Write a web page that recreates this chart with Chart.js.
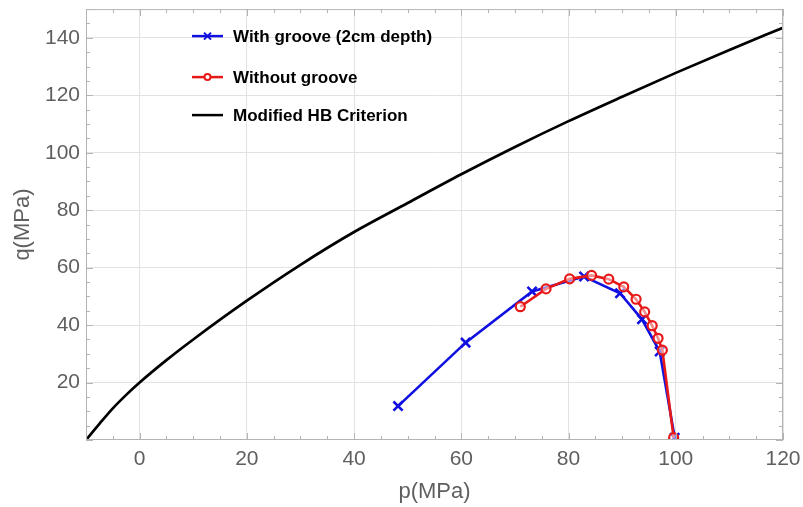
<!DOCTYPE html>
<html>
<head>
<meta charset="utf-8">
<script src="https://cdn.jsdelivr.net/npm/chart.js@4.4.1/dist/chart.umd.min.js"></script>
<style>
  html, body { margin: 0; padding: 0; background: #fff; }
  #wrap { width: 803px; height: 507px; position: relative; }
</style>
</head>
<body>
<div id="wrap"><canvas id="pqChart"></canvas></div>
<script>
// (p, q in MPa)
const grooveP = [48.2, 60.8, 73.2, 82.9, 89.6, 93.7, 97.0, 99.8];
const grooveQ = [11.8, 33.9, 51.7, 56.9, 51.1, 42.0, 30.8, 0.8];

const noGrooveP = [71.0, 75.8, 80.2, 84.3, 87.5, 90.3, 92.6, 94.2, 95.6, 96.7, 97.5, 99.6];
const noGrooveQ = [46.4, 52.6, 56.1, 57.3, 56.0, 53.3, 49.0, 44.6, 39.8, 35.4, 31.3, 0.8];

const hbP = [-10, -7.5, -5, -2.5, 0, 5, 10, 20, 30, 40, 50, 60, 70, 80, 90, 100, 110, 120];
const hbQ = [0, 5.6, 11.0, 15.7, 20, 27.8, 35, 48.5, 61, 72.4, 82.5, 92.5, 102, 111, 119.5, 127.8, 135.8, 143.5];

const xTicks = [0, 20, 40, 60, 80, 100, 120];
const yTicks = [20, 40, 60, 80, 100, 120, 140];

const seriesNames = ['With groove (2cm depth)', 'Without groove', 'Modified HB Criterion'];
const seriesColors = ['#1010e0', '#e81818', '#000000'];

const toPoints = (xs, ys) => xs.map((x, i) => ({ x: x, y: ys[i] }));

const noPad = (scale) => {
    scale.paddingTop = 0;
    scale.paddingBottom = 0;
    scale.paddingLeft = 0;
    scale.paddingRight = 0;
};

// Mathematica-style frame with inward ticks + legend inside the plot
const frameLegend = {
    id: 'frameLegend',
    afterDatasetsDraw(chart) {
        const ctx = chart.ctx;
        const a = chart.chartArea;
        const xs = chart.scales.x, ys = chart.scales.y;
        ctx.save();
        ctx.strokeStyle = '#b4b4b4';
        ctx.lineWidth = 1;
        ctx.strokeRect(a.left + 0.5, a.top + 0.5, a.right - a.left - 1, a.bottom - a.top - 1);
        ctx.beginPath();
        for (let v = -10; v <= 120; v += 5) {
            const px = Math.round(xs.getPixelForValue(v)) + 0.5;
            const len = v % 20 === 0 ? 7 : 4;
            ctx.moveTo(px, a.bottom); ctx.lineTo(px, a.bottom - len);
            ctx.moveTo(px, a.top); ctx.lineTo(px, a.top + len);
        }
        for (let v = 0; v <= 150; v += 5) {
            const py = Math.round(ys.getPixelForValue(v)) + 0.5;
            const len = v % 20 === 0 ? 7 : 4;
            ctx.moveTo(a.left, py); ctx.lineTo(a.left + len, py);
            ctx.moveTo(a.right, py); ctx.lineTo(a.right - len, py);
        }
        ctx.stroke();

        // legend
        const lx = a.left + 106, tx = a.left + 147;
        const rows = [a.top + 27, a.top + 68, a.top + 106];
        ctx.font = 'bold 17px "Liberation Sans", Arial, sans-serif';
        ctx.textBaseline = 'middle';
        rows.forEach((y, i) => {
            ctx.strokeStyle = seriesColors[i];
            ctx.lineWidth = 2.5;
            ctx.beginPath();
            ctx.moveTo(lx, y); ctx.lineTo(lx + 31, y);
            ctx.stroke();
            const cx = lx + 15.5;
            ctx.lineWidth = 2;
            if (i === 0) {
                ctx.beginPath();
                ctx.moveTo(cx - 3.5, y - 3.5); ctx.lineTo(cx + 3.5, y + 3.5);
                ctx.moveTo(cx + 3.5, y - 3.5); ctx.lineTo(cx - 3.5, y + 3.5);
                ctx.stroke();
            } else if (i === 1) {
                ctx.fillStyle = '#fff';
                ctx.beginPath();
                ctx.arc(cx, y, 3, 0, Math.PI * 2);
                ctx.fill(); ctx.stroke();
            }
            ctx.fillStyle = '#000';
            ctx.fillText(seriesNames[i], tx, y + 1);
        });
        ctx.restore();
    }
};

const tickFont = { family: '"Liberation Sans", Arial, sans-serif', size: 21 };

new Chart(document.getElementById('pqChart').getContext('2d'), {
    type: 'scatter',
    data: {
        datasets: [{
            label: seriesNames[0],
            data: toPoints(grooveP, grooveQ),
            showLine: true,
            borderColor: seriesColors[0],
            backgroundColor: seriesColors[0],
            borderWidth: 2.6,
            pointStyle: 'crossRot',
            pointRadius: 6.5,
            pointBorderWidth: 2.6,
            order: 2
        }, {
            label: seriesNames[1],
            data: toPoints(noGrooveP, noGrooveQ),
            showLine: true,
            borderColor: seriesColors[1],
            backgroundColor: 'rgba(255, 255, 255, 0.5)',
            borderWidth: 2.6,
            pointStyle: 'circle',
            pointRadius: 4.5,
            pointBorderWidth: 2.2,
            order: 1
        }, {
            label: seriesNames[2],
            data: toPoints(hbP, hbQ),
            showLine: true,
            borderColor: seriesColors[2],
            borderWidth: 2.7,
            pointRadius: 0,
            cubicInterpolationMode: 'monotone',
            order: 3
        }]
    },
    options: {
        responsive: true,
        maintainAspectRatio: false,
        animation: false,
        layout: { padding: { top: 9, right: 20, left: 0, bottom: 0 } },
        scales: {
            x: {
                type: 'linear',
                min: -10,
                max: 120,
                afterBuildTicks: (scale) => { scale.ticks = xTicks.map(v => ({ value: v })); },
                afterFit: (scale) => { scale.height = 67; noPad(scale); },
                grid: { color: '#e2e2e2', drawTicks: false },
                border: { display: false },
                ticks: { font: tickFont, color: '#5f5f5f', padding: 7, maxRotation: 0 },
                title: {
                    display: true,
                    text: 'p(MPa)',
                    font: { family: '"Liberation Sans", Arial, sans-serif', size: 22 },
                    color: '#5f5f5f',
                    padding: { top: 0, bottom: 2 }
                }
            },
            y: {
                type: 'linear',
                min: 0,
                max: 150,
                afterBuildTicks: (scale) => { scale.ticks = yTicks.map(v => ({ value: v })); },
                afterFit: (scale) => { scale.width = 86; noPad(scale); },
                grid: { color: '#e2e2e2', drawTicks: false },
                border: { display: false },
                ticks: { font: tickFont, color: '#5f5f5f', padding: 6 },
                title: {
                    display: true,
                    text: 'q(MPa)',
                    font: { family: '"Liberation Sans", Arial, sans-serif', size: 22 },
                    color: '#5f5f5f',
                    padding: { top: 10, bottom: 0 }
                }
            }
        },
        plugins: {
            legend: { display: false },
            tooltip: { enabled: false }
        }
    },
    plugins: [frameLegend]
});
</script>
</body>
</html>
